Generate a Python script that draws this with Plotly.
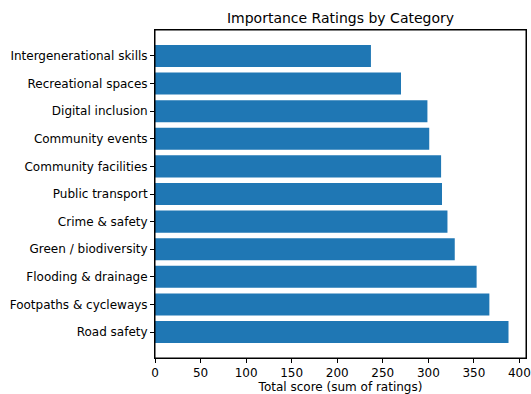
import plotly.graph_objs as go

# Total importance scores per category
categories = ['Road safety', 'Footpaths & cycleways', 'Flooding & drainage',
              'Green / biodiversity', 'Crime & safety', 'Public transport',
              'Community facilities', 'Community events', 'Digital inclusion',
              'Recreational spaces', 'Intergenerational skills']
scores = [388, 367, 353, 329, 321, 315, 314, 301, 299, 270, 237]
x_ticks = [0, 50, 100, 150, 200, 250, 300, 350, 400]

font = 'DejaVu Sans'
W, H = 531, 394

fig = go.Figure(
    go.Bar(
        x=scores,
        y=list(range(len(categories))),
        orientation='h',
        width=0.8,
        marker=dict(color='#1f77b4', line=dict(width=0))
    )
)

axis_style = dict(showline=True, linecolor='black', linewidth=1, mirror=True,
                  ticks='outside', ticklen=4, tickwidth=1, tickcolor='black',
                  showgrid=False, zeroline=False, automargin=False,
                  ticklabeloverflow='allow',
                  tickfont=dict(family=font, size=12, color='black'))

fig.update_layout(
    width=W, height=H,
    margin=dict(l=155, r=5, t=30, b=36),
    plot_bgcolor='white', paper_bgcolor='white',
    showlegend=False,
    title=dict(text='Importance Ratings by Category', x=(155 + 526) / 2 / W,
               xanchor='center', y=1 - 18 / H, yanchor='middle',
               font=dict(family=font, size=14, color='black')),
    xaxis=dict(range=[0, 407.2], tickvals=x_ticks,
               title=dict(text='Total score (sum of ratings)', standoff=6,
                          font=dict(family=font, size=12, color='black')),
               **axis_style),
    yaxis=dict(range=[-0.94, len(categories) - 1 + 0.94],
               tickvals=list(range(len(categories))), ticktext=categories,
               **axis_style),
)

# full frame around the axes, like the matplotlib spines
fig.add_shape(type='rect', xref='paper', yref='paper', x0=0, x1=1, y0=0, y1=1,
              line=dict(color='black', width=1), layer='above')

# drop the default body margin so the figure fills the window exactly
fig.write_html("out.html",
               config=dict(displayModeBar=False),
               post_script="document.body.style.margin='0';"
                           "document.body.style.overflow='hidden';")
